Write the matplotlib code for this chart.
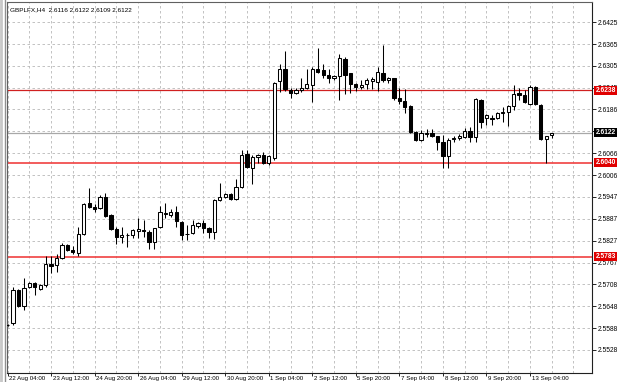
import matplotlib
matplotlib.use("Agg")
import matplotlib.pyplot as plt
import matplotlib.transforms as mtransforms

plt.rcParams["font.family"] = ["Liberation Sans", "DejaVu Sans"]

symbol = "GBPLFX,H4"

# H4 bars, 22 Aug 04:00 .. 13 Sep 16:00
opens = [2.5597, 2.5602, 2.5692, 2.5648, 2.5700, 2.5711, 2.5695, 2.5706, 2.5763, 2.5760,
         2.5780, 2.5815, 2.5801, 2.5793, 2.5845, 2.5930, 2.5919, 2.5916, 2.5946, 2.5897,
         2.5859, 2.5837, 2.5842, 2.5842, 2.5853, 2.5856, 2.5851, 2.5823, 2.5864, 2.5900,
         2.5897, 2.5905, 2.5878, 2.5845, 2.5848, 2.5867, 2.5875, 2.5862, 2.5851, 2.5938,
         2.5946, 2.5955, 2.5941, 2.5974, 2.6064, 2.6026, 2.6056, 2.6061, 2.6039, 2.6053,
         2.6264, 2.6296, 2.6239, 2.6231, 2.6239, 2.6245, 2.6253, 2.6296, 2.6294, 2.6280,
         2.6272, 2.6277, 2.6324, 2.6286, 2.6255, 2.6247, 2.6255, 2.6264, 2.6261, 2.6286,
         2.6266, 2.6272, 2.6217, 2.6209, 2.6195, 2.6124, 2.6102, 2.6119, 2.6121, 2.6113,
         2.6097, 2.6058, 2.6105, 2.6108, 2.6110, 2.6127, 2.6110, 2.6212, 2.6162, 2.6162,
         2.6162, 2.6176, 2.6179, 2.6195, 2.6231, 2.6225, 2.6201, 2.6247, 2.6198, 2.6105,
         2.6116]
highs = [2.5599, 2.5700, 2.5695, 2.5725, 2.5714, 2.5714, 2.5708, 2.5785, 2.5785, 2.5791,
         2.5821, 2.5818, 2.5813, 2.5864, 2.5930, 2.5971, 2.5927, 2.5952, 2.5957, 2.5900,
         2.5864, 2.5864, 2.5848, 2.5859, 2.5889, 2.5883, 2.5856, 2.5862, 2.5922, 2.5930,
         2.5914, 2.5922, 2.5880, 2.5870, 2.5883, 2.5878, 2.5883, 2.5864, 2.5941, 2.5985,
         2.5957, 2.5957, 2.5996, 2.6075, 2.6075, 2.6061, 2.6064, 2.6069, 2.6061, 2.6261,
         2.6310, 2.6346, 2.6245, 2.6245, 2.6272, 2.6296, 2.6302, 2.6354, 2.6310, 2.6296,
         2.6280, 2.6337, 2.6329, 2.6287, 2.6258, 2.6266, 2.6272, 2.6275, 2.6302, 2.6362,
         2.6275, 2.6273, 2.6245, 2.6242, 2.6198, 2.6127, 2.6130, 2.6132, 2.6132, 2.6114,
         2.6116, 2.6108, 2.6113, 2.6119, 2.6135, 2.6138, 2.6217, 2.6214, 2.6173, 2.6171,
         2.6179, 2.6193, 2.6198, 2.6253, 2.6245, 2.6239, 2.6253, 2.6250, 2.6201, 2.6113,
         2.6122]
lows = [2.5594, 2.5596, 2.5646, 2.5637, 2.5697, 2.5678, 2.5692, 2.5700, 2.5739, 2.5741,
        2.5777, 2.5799, 2.5791, 2.5785, 2.5842, 2.5916, 2.5905, 2.5914, 2.5892, 2.5856,
        2.5818, 2.5821, 2.5810, 2.5834, 2.5834, 2.5837, 2.5804, 2.5804, 2.5862, 2.5889,
        2.5892, 2.5864, 2.5829, 2.5829, 2.5845, 2.5862, 2.5848, 2.5834, 2.5832, 2.5935,
        2.5944, 2.5938, 2.5938, 2.5971, 2.6026, 2.5982, 2.6039, 2.6037, 2.6034, 2.6048,
        2.6234, 2.6236, 2.6217, 2.6228, 2.6234, 2.6242, 2.6206, 2.6286, 2.6272, 2.6258,
        2.6266, 2.6212, 2.6228, 2.6231, 2.6236, 2.6242, 2.6242, 2.6242, 2.6236, 2.6261,
        2.6258, 2.6212, 2.6201, 2.6176, 2.6121, 2.6100, 2.6100, 2.6110, 2.6110, 2.6075,
        2.6026, 2.6026, 2.6097, 2.6102, 2.6108, 2.6097, 2.6097, 2.6135, 2.6143, 2.6143,
        2.6160, 2.6152, 2.6141, 2.6184, 2.6212, 2.6203, 2.6198, 2.6198, 2.6102, 2.6039,
        2.6109]
closes = [2.5596, 2.5692, 2.5648, 2.5697, 2.5711, 2.5700, 2.5706, 2.5763, 2.5757, 2.5780,
          2.5815, 2.5801, 2.5796, 2.5845, 2.5927, 2.5919, 2.5914, 2.5946, 2.5894, 2.5859,
          2.5837, 2.5842, 2.5843, 2.5856, 2.5859, 2.5853, 2.5823, 2.5862, 2.5905, 2.5903,
          2.5905, 2.5881, 2.5842, 2.5846, 2.5870, 2.5875, 2.5862, 2.5851, 2.5938, 2.5946,
          2.5955, 2.5941, 2.5974, 2.6061, 2.6028, 2.6056, 2.6061, 2.6039, 2.6058, 2.6258,
          2.6296, 2.6242, 2.6231, 2.6239, 2.6245, 2.6255, 2.6296, 2.6288, 2.6280, 2.6272,
          2.6277, 2.6327, 2.6280, 2.6255, 2.6247, 2.6253, 2.6266, 2.6269, 2.6288, 2.6266,
          2.6272, 2.6217, 2.6209, 2.6193, 2.6124, 2.6102, 2.6121, 2.6121, 2.6113, 2.6097,
          2.6058, 2.6102, 2.6108, 2.6113, 2.6127, 2.6110, 2.6214, 2.6152, 2.6171, 2.6160,
          2.6176, 2.6179, 2.6195, 2.6228, 2.6225, 2.6206, 2.6247, 2.6201, 2.6105, 2.6113,
          2.6122]

# one date label every 8 bars, starting at bar 0
date_labels = ["22 Aug 04:00", "23 Aug 12:00", "24 Aug 20:00", "26 Aug 04:00",
               "29 Aug 12:00", "30 Aug 20:00", "1 Sep 04:00", "2 Sep 12:00",
               "5 Sep 20:00", "7 Sep 04:00", "8 Sep 12:00", "9 Sep 20:00",
               "13 Sep 04:00"]

price_ticks = [2.6425, 2.6365, 2.6305, 2.6246, 2.6186, 2.6126, 2.6066, 2.6006,
               2.5947, 2.5887, 2.5827, 2.5767, 2.5708, 2.5648, 2.5588, 2.5528]
price_tick_labels = ["2.6425", "2.6365", "2.6305", "2.6245", "2.6186", "2.6126",
                     "2.6066", "2.6006", "2.5947", "2.5887", "2.5827", "2.5767",
                     "2.5708", "2.5648", "2.5588", "2.5528"]

levels = [2.6238, 2.6040, 2.5783]
level_labels = ["2.6238", "2.6040", "2.5783"]
bid = 2.6122
bid_label = "2.6122"

FS = 4.8
FSX = 4.4

fig = plt.figure(figsize=(6.25, 3.82), dpi=100)
W, H = 625, 382
ax = fig.add_axes([7 / W, 9 / H, (592 - 7) / W, (380 - 9) / H])

n = len(opens)
xs = list(range(n))

# grid: vertical every 4 bars, horizontal at price ticks
for g in range(0, 108, 4):
    ax.axvline(g, color="#b8b8b8", lw=0.6, ls=(0, (3, 3)), zorder=0)
for p in price_ticks:
    ax.axhline(p, color="#b8b8b8", lw=0.6, ls=(0, (3, 3)), zorder=0)

# level lines
ax.axhline(levels[0], color="#d02020", lw=0.9, zorder=1)
for lv in levels[1:]:
    ax.axhline(lv, color="#f04040", lw=1.4, alpha=0.85, zorder=1)
ax.axhline(bid, color="#a8a8a8", lw=0.9, zorder=1)

# candles
ax.vlines(xs, lows, highs, color="black", lw=0.75, zorder=2)
for x, o, c in zip(xs, opens, closes):
    lo = min(o, c)
    h = max(abs(c - o), 0.00004)
    if c >= o:
        fc = "white"
    else:
        fc = "black"
    ax.bar(x, h, bottom=lo, width=0.6, facecolor=fc, edgecolor="black",
           linewidth=0.75, zorder=3)

ax.set_xlim(-0.1, 107.4)
ax.set_ylim(2.5465, 2.6480)

# axes look
for s in ["left", "top"]:
    ax.spines[s].set_color("#606060")
    ax.spines[s].set_linewidth(0.8)
for s in ["right", "bottom"]:
    ax.spines[s].set_color("#202020")
    ax.spines[s].set_linewidth(0.8)

ax.yaxis.tick_right()
ax.set_yticks(price_ticks)
ax.set_yticklabels(price_tick_labels, fontsize=FS)
ax.tick_params(axis="y", length=3, width=0.6, pad=1, colors="black")

ax.set_xticks(list(range(0, n, 8)))
ax.set_xticklabels(date_labels, fontsize=FSX, ha="left")
ax.tick_params(axis="x", length=2, width=0.6, pad=0, colors="black")
offset = mtransforms.ScaledTranslation(1.2 / 72, 0, fig.dpi_scale_trans)
for lab in ax.get_xticklabels():
    lab.set_transform(lab.get_transform() + offset)

# price boxes on the right scale
trans = mtransforms.blended_transform_factory(ax.transAxes, ax.transData)
for lv, txt in zip(levels, level_labels):
    ax.text(1.006, lv, txt, transform=trans, fontsize=FS, color="white",
            fontweight="bold", ha="left", va="center", clip_on=False, zorder=10,
            bbox=dict(facecolor="#e00000", edgecolor="none", pad=0.8))
ax.text(1.006, bid, bid_label, transform=trans, fontsize=FS, color="white",
        fontweight="bold", ha="left", va="center", clip_on=False, zorder=10,
        bbox=dict(facecolor="black", edgecolor="none", pad=0.8))

# window frame on the left
fig.add_artist(plt.Line2D([1.5 / W, 1.5 / W], [0, 1], color="#c8c8c8", lw=2))
fig.add_artist(plt.Line2D([4.5 / W, 4.5 / W], [0, 1], color="#909090", lw=1))

fig.text(10 / W, 1 - 10 / H, symbol + "  2.6116 2.6122 2.6109 2.6122",
         fontsize=4.6, va="center", ha="left")

fig.savefig("out.png", dpi=100)
